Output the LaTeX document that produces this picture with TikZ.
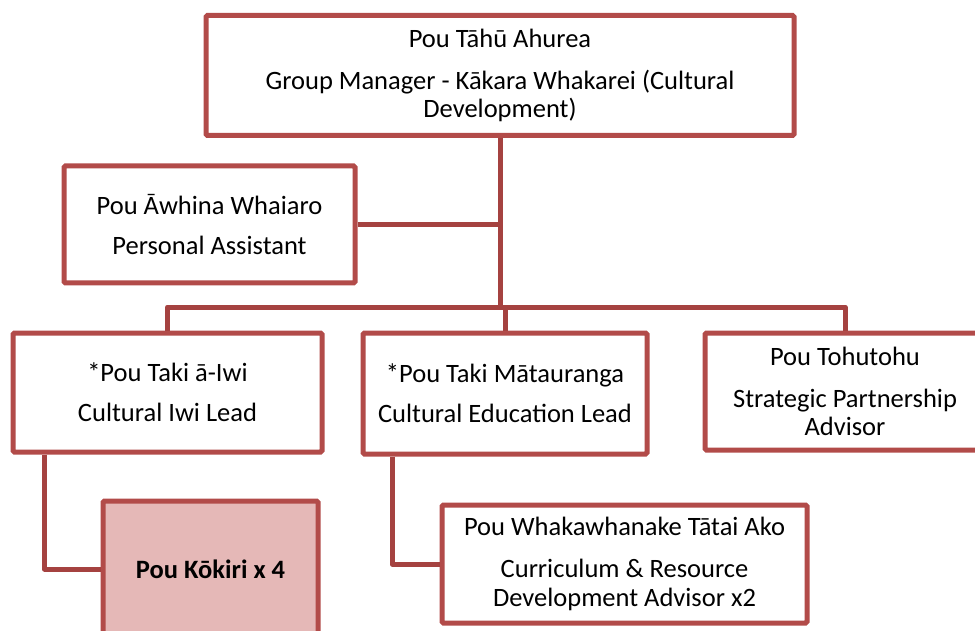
\documentclass[tikz,border=0pt]{standalone}
\usepackage{fontspec}
\setmainfont{Carlito}
\definecolor{boxline}{RGB}{178,75,73}
\definecolor{linkline}{RGB}{165,66,64}
\definecolor{boxfill}{RGB}{229,184,183}
\begin{document}
\begin{tikzpicture}[x=1pt,y=-1pt,
  orgbox/.style={draw=boxline, line width=5pt, fill=white, rounded corners=1.5pt,
    align=center, inner sep=0pt, font=\fontsize{26.5}{28.5}\selectfont},
  link/.style={draw=linkline, line width=5pt, line join=round}]
\useasboundingbox (0,0) rectangle (975,631);

% level of the horizontal bus line
\coordinate (bar) at (0,307);

% boxes
\node[orgbox, minimum width=588pt, minimum height=120pt] (top) at (500,75.5)
  {Pou Tāhū Ahurea\\[13.5pt]Group Manager - Kākara Whakarei (Cultural\\Development)};
\node[orgbox, minimum width=291pt, minimum height=117pt] (pa) at (209.5,224.5)
  {Pou Āwhina Whaiaro\\[11.5pt]Personal Assistant};
\node[orgbox, minimum width=309pt, minimum height=119pt] (iwi) at (167.5,392.5)
  {*Pou Taki ā-Iwi\\[11.5pt]Cultural Iwi Lead};
\node[orgbox, minimum width=284pt, minimum height=121pt] (edu) at (505,393.5)
  {*Pou Taki Mātauranga\\[11.5pt]Cultural Education Lead};
\node[orgbox, minimum width=280pt, minimum height=117pt] (tohu) at (845,391.5)
  {Pou Tohutohu\\[13.5pt]Strategic Partnership\\Advisor};
\node[orgbox, fill=boxfill, minimum width=215pt, minimum height=136pt,
  font=\fontsize{26.5}{28.5}\selectfont\bfseries] (kokiri) at (210.5,569)
  {Pou Kōkiri x 4};
\node[orgbox, minimum width=365pt, minimum height=118pt] (curr) at (624.5,564)
  {Pou Whakawhanake Tātai Ako\\[13.5pt]Curriculum \& Resource\\Development Advisor x2};

% reporting lines
\draw[link] (top.south) -- (top.south |- bar);
\draw[link] (pa.east) -- (pa.east -| top.south);
\draw[link] (iwi.north) |- (tohu.north |- bar) -- (tohu.north);
\draw[link] (edu.north) -- (edu.north |- bar);
\draw[link] ([xshift=-123pt]iwi.south) |- (kokiri.west);
\draw[link] ([xshift=-113pt]edu.south) |- (curr.west);
\end{tikzpicture}
\end{document}
